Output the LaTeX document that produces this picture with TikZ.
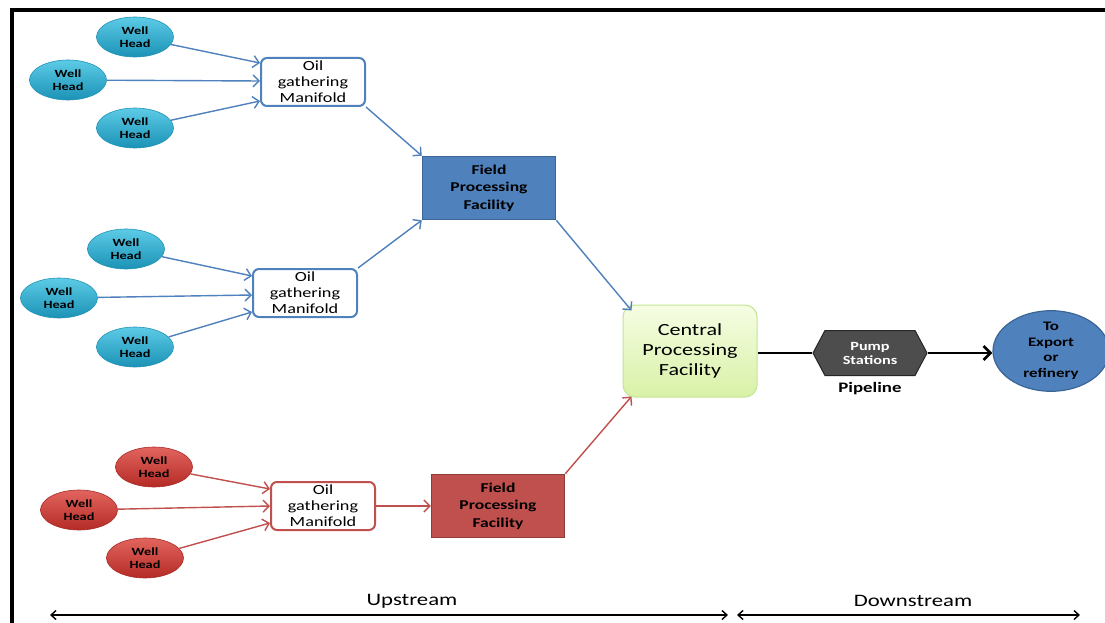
\documentclass[tikz,border=0pt]{standalone}
\usepackage{fontspec}
\setmainfont[FakeStretch=1.3]{Carlito}
\usetikzlibrary{arrows.meta,shapes.geometric,shapes.symbols,calc}
\definecolor{bline}{HTML}{4F81BD}
\definecolor{bdark}{HTML}{3A6596}
\definecolor{rline}{HTML}{C0504D}
\definecolor{rdark}{HTML}{8E3B39}
\definecolor{wbtop}{HTML}{5CCBE6}
\definecolor{wbbot}{HTML}{1B92B6}
\definecolor{wbdraw}{HTML}{2394B6}
\definecolor{wrtop}{HTML}{E2645E}
\definecolor{wrbot}{HTML}{B52B26}
\definecolor{wrdraw}{HTML}{A82C27}
\definecolor{cpftop}{HTML}{F6FDE4}
\definecolor{cpfbot}{HTML}{D8F1A6}
\definecolor{cpfdraw}{HTML}{C2E596}
\definecolor{pumpfill}{HTML}{4D4D4D}
\tikzset{
  wellb/.style={ellipse, minimum width=77pt, minimum height=40pt, inner sep=0pt,
    top color=wbtop, bottom color=wbbot, draw=wbdraw, line width=0.6pt,
    align=center, font=\fontsize{11}{13}\selectfont\bfseries},
  wellr/.style={wellb, top color=wrtop, bottom color=wrbot, draw=wrdraw},
  manib/.style={rectangle, rounded corners=6pt, minimum width=104pt, minimum height=48pt,
    inner sep=0pt, draw=bline, line width=2pt, fill=white, align=center,
    font=\fontsize{14}{16}\selectfont},
  manir/.style={manib, draw=rline},
  fpfb/.style={rectangle, minimum width=133pt, minimum height=63pt, inner sep=0pt,
    fill=bline, draw=bdark, line width=1.5pt, align=center,
    font=\fontsize{13.5}{17.5}\selectfont\bfseries},
  fpfr/.style={fpfb, fill=rline, draw=rdark},
  barrow/.style={draw=bline, line width=1.4pt, -{Straight Barb[length=6pt,width=12pt]}},
  rarrow/.style={barrow, draw=rline},
  karrow/.style={draw=black, line width=1.4pt, {Straight Barb[length=5pt,width=9pt]}-{Straight Barb[length=5pt,width=9pt]}},
}
\begin{document}
\begin{tikzpicture}[x=1pt,y=-1pt]
\useasboundingbox (0,0) rectangle (1105,623);
\fill[white] (0,0) rectangle (1105,623);
% frame
\draw[line width=4pt] (12,623) -- (12,10) -- (1106,10);

% blue group 1
\node[wellb] (w1) at (135,37) {Well\\Head};
\node[wellb] (w2) at (68,80) {Well\\Head};
\node[wellb] (w3) at (135,128) {Well\\Head};
\node[manib] (m1) at (313,82) {Oil\\gathering\\Manifold};
% blue group 2
\node[wellb] (w4) at (126,249) {Well\\Head};
\node[wellb] (w5) at (59,298) {Well\\Head};
\node[wellb] (w6) at (135,347) {Well\\Head};
\node[manib] (m2) at (305,293) {Oil\\gathering\\Manifold};
\node[fpfb] (f1) at (489,188) {Field\\Processing\\Facility};
% red group
\node[wellr] (w7) at (154,467) {Well\\Head};
\node[wellr] (w8) at (79,510) {Well\\Head};
\node[wellr] (w9) at (145,558) {Well\\Head};
\node[manir] (m3) at (323,506) {Oil\\gathering\\Manifold};
\node[fpfr] (f3) at (498,506) {Field\\Processing\\Facility};

% central
\node[rectangle, rounded corners=12pt, minimum width=134pt, minimum height=92pt,
  inner sep=0pt, top color=cpftop, bottom color=cpfbot, draw=cpfdraw, line width=1pt,
  align=center, font=\fontsize{17}{20}\selectfont] (cpf) at (690,351)
  {Central\\Processing\\Facility};
\node[signal, signal to=east and west, signal pointer angle=124,
  minimum width=114pt, minimum height=45pt, inner sep=0pt,
  fill=pumpfill, draw=black!85, line width=1pt, text=white, align=center,
  font=\fontsize{12.5}{14}\selectfont\bfseries] (pump) at (870,353) {Pump\\Stations};
\node[font=\fontsize{14.5}{14}\selectfont\bfseries] (pipe) at (870,389) {Pipeline};
\node[ellipse, minimum width=116pt, minimum height=66pt, inner sep=0pt,
  fill=bline, draw=bdark, line width=1.2pt, align=center,
  font=\fontsize{13}{15.5}\selectfont\bfseries] (exp) at (1051,351)
  {To\\Export\\or\\refinery};

% blue arrows group 1
\draw[barrow] (w1) -- ([yshift=19pt]m1.west);
\draw[barrow] (w2) -- ([yshift=1pt]m1.west);
\draw[barrow] (w3) -- ([yshift=-19pt]m1.west);
\draw[barrow] (m1.south east) -- (f1.north west);
% blue arrows group 2
\draw[barrow] (w4) -- ([yshift=17pt]m2.west);
\draw[barrow] (w5) -- ([yshift=-2pt]m2.west);
\draw[barrow] (w6) -- ([yshift=-19pt]m2.west);
\draw[barrow] (m2.north east) -- (f1.south west);
\draw[barrow] (f1.south east) -- ([xshift=9pt,yshift=-6pt]cpf.north west);
% red arrows
\draw[rarrow] (w7) -- ([yshift=17pt]m3.west);
\draw[rarrow] (w8) -- (m3.west);
\draw[rarrow] (w9) -- ([yshift=-17pt]m3.west);
\draw[rarrow] (m3) -- (f3);
\draw[rarrow] (f3.north east) -- ([xshift=9pt,yshift=1pt]cpf.south west);

% pipeline
\draw[line width=2.6pt] (cpf.east |- pump.west) -- (pump.west);
\draw[line width=2.6pt, -{Straight Barb[length=7pt,width=14pt]}] (pump.east) -- (exp.west |- pump.east);

% bottom scale
\coordinate (ua) at (50,615);
\coordinate (ub) at (728,615);
\coordinate (da) at (737,615);
\coordinate (db) at (1080,615);
\draw[karrow] (ua) -- (ub);
\draw[karrow] (da) -- (db);
\node[font=\fontsize{17.5}{16}\selectfont] (up) at (412,601) {Upstream};
\node[font=\fontsize{17.5}{16}\selectfont] (down) at (913,601) {Downstream};
\end{tikzpicture}
\end{document}
